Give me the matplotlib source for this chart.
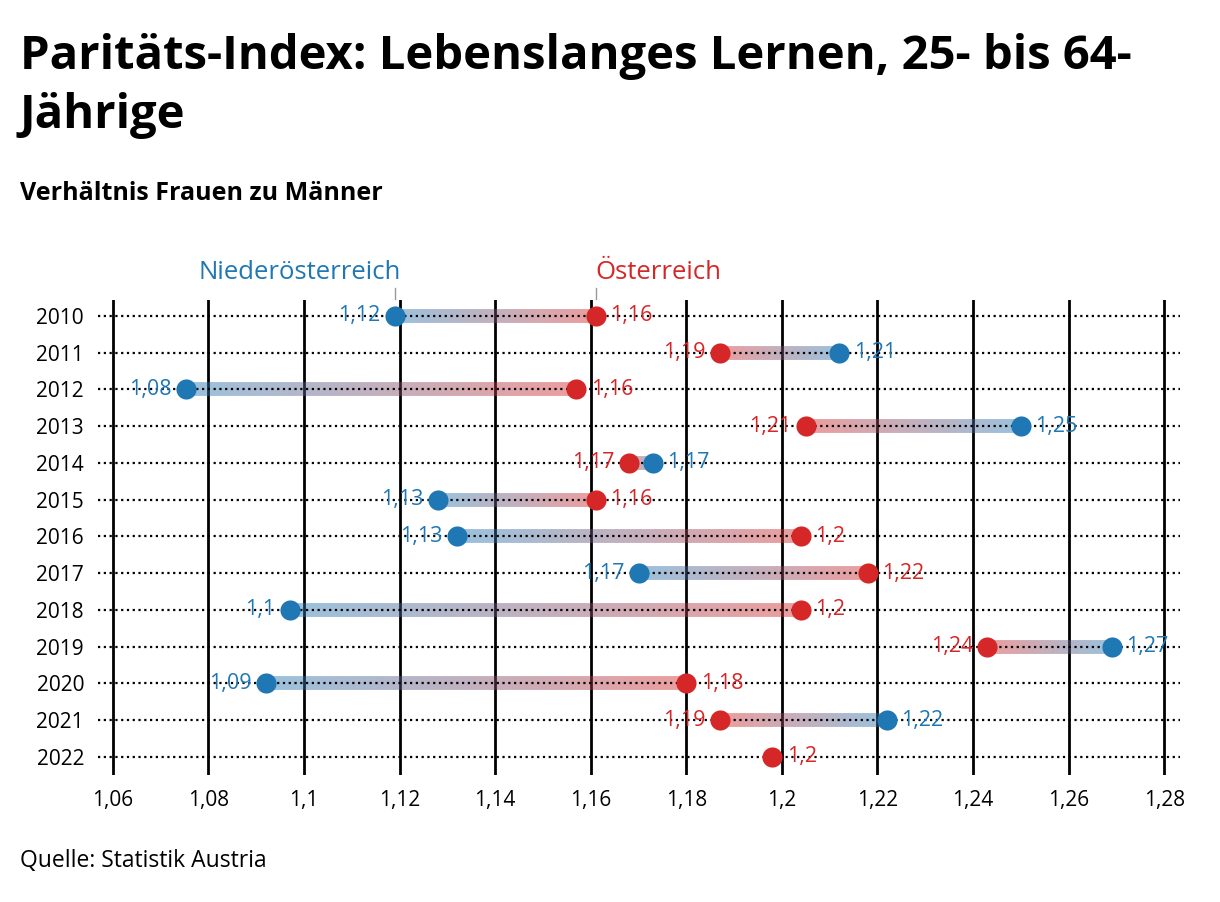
import numpy as np
import matplotlib
matplotlib.use("Agg")
import matplotlib.pyplot as plt
from matplotlib.collections import LineCollection
from matplotlib.colors import to_rgba

plt.rcParams['font.family'] = ['Open Sans', 'DejaVu Sans']

# Daten: Paritäts-Index (Frauen / Männer), Lebenslanges Lernen
years = ['2010', '2011', '2012', '2013', '2014', '2015', '2016',
         '2017', '2018', '2019', '2020', '2021', '2022']
noe = [1.119, 1.212, 1.0753, 1.250, 1.173, 1.128, 1.132,
       1.170, 1.097, 1.269, 1.092, 1.222, np.nan]
oe = [1.161, 1.187, 1.157, 1.205, 1.168, 1.161, 1.204,
      1.218, 1.204, 1.243, 1.180, 1.187, 1.198]
xticks = [1.06, 1.08, 1.10, 1.12, 1.14, 1.16, 1.18, 1.20, 1.22, 1.24, 1.26, 1.28]

blue = '#1f77b4'
red = '#d62728'


def fmt(v):
    s = f'{v:.2f}'.rstrip('0').rstrip('.')
    return s.replace('.', ',')


fig = plt.figure(figsize=(12.2, 9.02), dpi=100)
ax = fig.add_axes([98 / 1220, 1 - 775 / 902, 1082 / 1220, 475 / 902])

ypos = np.arange(len(years))

# vertical grid lines
for t in xticks:
    ax.axvline(t, color='black', lw=2, zorder=1)
# dotted row lines
for y in ypos:
    ax.axhline(y, color='black', lw=1.6, ls=(0, (1, 1.6)), zorder=3)

# gradient bars
cb = np.array(to_rgba(blue, 0.45))
cr = np.array(to_rgba(red, 0.45))
n = 60
for y, b, r in zip(ypos, noe, oe):
    if np.isnan(b):
        continue
    xs = np.linspace(b, r, n + 1)
    segs = [[(xs[i], y), (xs[i + 1], y)] for i in range(n)]
    cols = [cb + (cr - cb) * (i + 0.5) / n for i in range(n)]
    lc = LineCollection(segs, colors=cols, linewidths=10, capstyle='butt', zorder=2)
    ax.add_collection(lc)

ax.scatter(noe, ypos, s=210, color=blue, zorder=4, linewidths=0)
ax.scatter(oe, ypos, s=210, color=red, zorder=4, linewidths=0)

# value labels
off = 0.0030
fs = 15.5
for y, b, r in zip(ypos, noe, oe):
    if np.isnan(b):
        ax.text(r + off, y, fmt(r), color=red, fontsize=fs, va='center', ha='left', zorder=5)
        continue
    if b <= r:
        ax.text(b - off, y, fmt(b), color=blue, fontsize=fs, va='center', ha='right', zorder=5)
        ax.text(r + off, y, fmt(r), color=red, fontsize=fs, va='center', ha='left', zorder=5)
    else:
        ax.text(r - off, y, fmt(r), color=red, fontsize=fs, va='center', ha='right', zorder=5)
        ax.text(b + off, y, fmt(b), color=blue, fontsize=fs, va='center', ha='left', zorder=5)

# series labels above first row
ax.plot([noe[0], noe[0]], [-0.75, -0.45], color='#999999', lw=1, clip_on=False)
ax.plot([oe[0], oe[0]], [-0.75, -0.45], color='#999999', lw=1, clip_on=False)
ax.text(noe[0] + 0.0013, -1.17, 'Niederösterreich', color=blue, fontsize=18.5,
        ha='right', va='center')
ax.text(oe[0], -1.17, 'Österreich', color=red, fontsize=18.5, ha='left', va='center')

ax.set_xlim(1.0569, 1.2833)
ax.set_ylim(12.49, -0.435)
ax.set_xticks(xticks)
ax.set_xticklabels([fmt(t) for t in xticks], fontsize=15)
ax.set_yticks(ypos)
ax.set_yticklabels(years, fontsize=15)
ax.tick_params(axis='both', length=0)
ax.tick_params(axis='x', pad=11)
ax.tick_params(axis='y', pad=10)
for s in ax.spines.values():
    s.set_visible(False)

fig.text(20 / 1220, 1 - 33 / 902, 'Paritäts-Index: Lebenslanges Lernen, 25- bis 64-\nJährige',
         fontsize=34, fontweight='bold', ha='left', va='top', linespacing=1.32)
fig.text(20 / 1220, 1 - 193 / 902, 'Verhältnis Frauen zu Männer', fontsize=18,
         fontweight='bold', ha='left', va='center')
fig.text(20 / 1220, 1 - 861 / 902, 'Quelle: Statistik Austria', fontsize=16.5,
         ha='left', va='center')

fig.savefig('out.png', dpi=100)
